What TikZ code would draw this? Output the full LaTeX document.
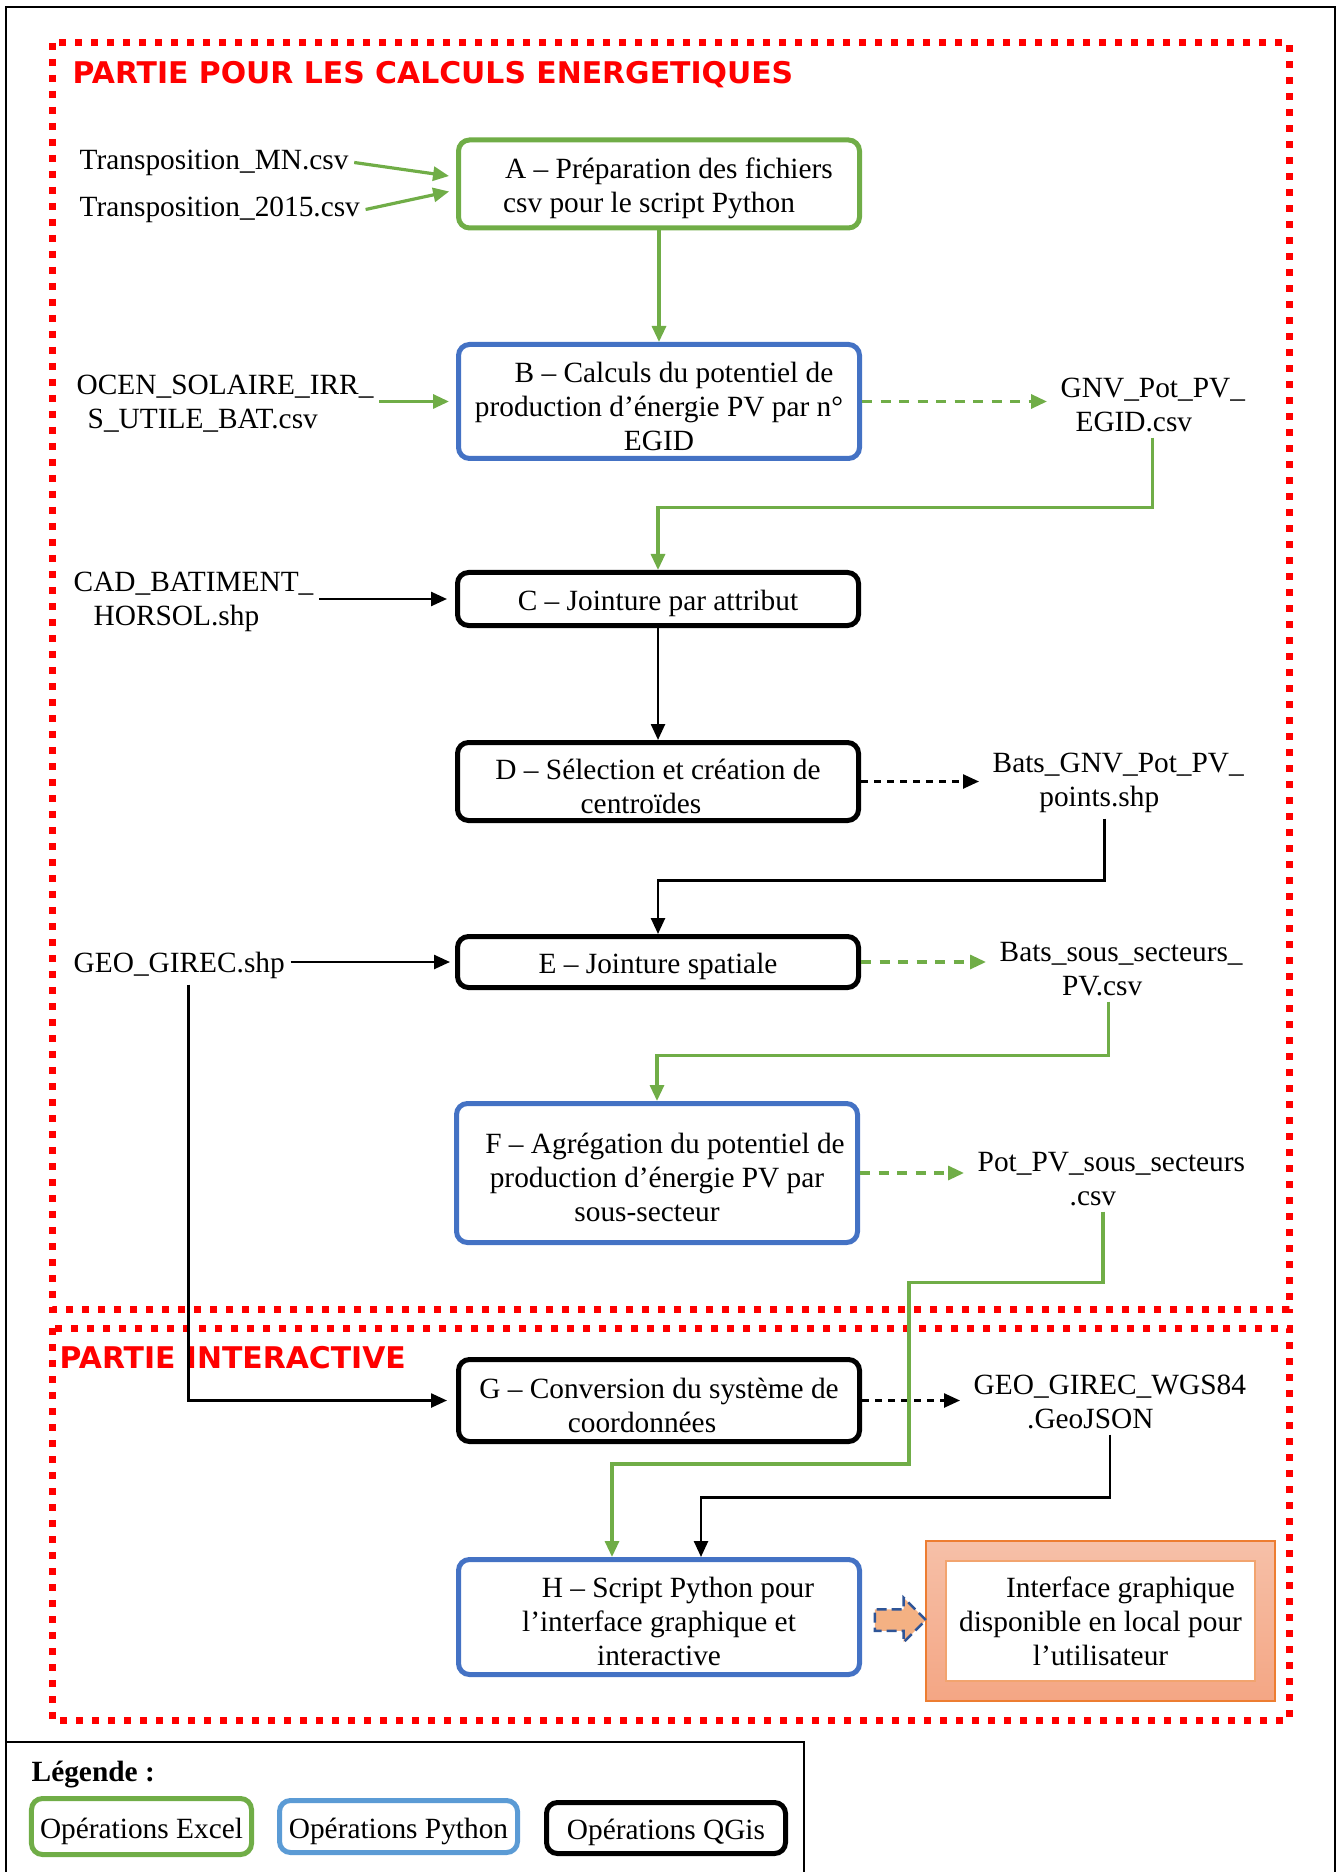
\documentclass[tikz,border=0pt]{standalone}
\usepackage{fontspec}
\setmainfont{Liberation Serif}
\newfontfamily\titlefont{DejaVu Sans}
\usetikzlibrary{arrows.meta,shapes.arrows}

\definecolor{xlgreen}{HTML}{70AD47}
\definecolor{pyblue}{HTML}{4472C4}
\definecolor{pylight}{HTML}{5B9BD5}
\definecolor{partred}{HTML}{FF0000}
\definecolor{uitop}{RGB}{246,192,168}
\definecolor{uibot}{RGB}{244,166,132}
\definecolor{uiedge}{HTML}{ED7D31}
\definecolor{arrfill}{HTML}{F4B183}
\definecolor{arredge}{HTML}{2F5597}

% taller first line, to sit the text a little lower in its box
\newcommand{\boxtop}{\rule{0pt}{3mm}}

\tikzset{
  txt/.style={font=\fontsize{8.35}{9.7}\selectfont},
  opbox/.style={txt, draw, rounded corners=1.1mm, line width=0.5mm, minimum width=40.1mm, align=center,
    inner sep=0.5mm},
  excel/.style={opbox, draw=xlgreen},
  python/.style={opbox, draw=pyblue},
  qgis/.style={opbox, draw=black},
  file/.style={txt, inner sep=0.5mm},
  flow/.style={line width=0.25mm, -{Triangle[length=1.6mm,width=1.4mm]}},
  gflow/.style={flow, xlgreen, line width=0.32mm},
  outflow/.style={flow, dash pattern=on 0.7mm off 0.6mm, shorten >=0.8mm},
  goutflow/.style={gflow, dash pattern=on 1mm off 0.85mm, shorten >=0.8mm},
  partie/.style={draw=partred, line width=0.7mm, dash pattern=on 0.7mm off 0.9mm},
  partlabel/.style={font=\titlefont\bfseries\fontsize{8.5}{10}\selectfont, text=partred, anchor=west, inner sep=0},
}

\begin{document}
\begin{tikzpicture}[x=1mm, y=-1mm]
  \useasboundingbox (0,0) rectangle (133.9,187.2);

  % outer frame
  \draw[line width=0.25mm] (0.6,187.2) -- (0.6,0.7) -- (133.5,0.7) -- (133.5,187.2);

  % the two parts
  \draw[partie] (5.2,4.3) rectangle (128.9,130.9);
  \draw[partie] (5.2,132.8) rectangle (128.9,172.0);
  \node[partlabel] (tcalc) at (7.2,7.5) {PARTIE POUR LES CALCULS ENERGETIQUES};
  \node[partlabel] (tinter) at (5.9,135.8) {PARTIE INTERACTIVE};

  % operations
  \node[excel, minimum height=8.8mm] (A) at (65.9,18.4)
    {\boxtop\hspace*{2mm}A – Préparation des fichiers\\csv pour le script Python\hspace*{2mm}};
  \node[python, minimum height=11.4mm] (B) at (65.9,40.15)
    {\boxtop\hspace*{3mm}B – Calculs du potentiel de\\production d’énergie PV par n°\\EGID};
  \node[qgis, minimum height=5.3mm] (C) at (65.8,59.9) {\boxtop C – Jointure par attribut};
  \node[qgis, minimum height=7.8mm] (D) at (65.8,78.15)
    {\boxtop D – Sélection et création de\\centroïdes\hspace*{3.4mm}};
  \node[qgis, minimum height=5.1mm] (E) at (65.8,96.2) {\boxtop E – Jointure spatiale};
  \node[python, minimum height=13.9mm] (F) at (65.7,117.3)
    {\boxtop\hspace*{1.6mm}F – Agrégation du potentiel de\\production d’énergie PV par\hspace*{2.2mm}\\sous-secteur\hspace*{2mm}};
  \node[qgis, minimum height=8.2mm] (G) at (65.9,140.05)
    {\boxtop G – Conversion du système de\\coordonnées\hspace*{3.4mm}};
  \node[python, minimum height=11.5mm] (H) at (65.9,161.7)
    {\boxtop\hspace*{3.8mm}H – Script Python pour\\l’interface graphique et\\interactive};

  % input files
  \node[file, anchor=west] (tmn) at (7.4,16.25) {Transposition\_MN.csv};
  \node[file, anchor=west] (t15) at (7.4,20.95) {Transposition\_2015.csv};
  \node[file, anchor=west, align=left] (ocen) at (7.1,40.4)
    {OCEN\_SOLAIRE\_IRR\_\\\hspace*{1.1mm}S\_UTILE\_BAT.csv};
  \node[file, anchor=west, align=left] (cad) at (6.8,60.15)
    {CAD\_BATIMENT\_\\\hspace*{2mm}HORSOL.shp};
  \node[file, anchor=west] (geo) at (6.8,96.55) {GEO\_GIREC.shp};

  % output files
  \node[file, anchor=west, align=center] (gnv) at (105.5,40.5)
    {GNV\_Pot\_PV\_\\EGID.csv\hspace*{3.8mm}};
  \node[file, anchor=west, align=center] (bgnv) at (98.7,78.3)
    {Bats\_GNV\_Pot\_PV\_\\points.shp\hspace*{3.8mm}};
  \node[file, anchor=west, align=center] (bsous) at (99.4,96.9)
    {Bats\_sous\_secteurs\_\\PV.csv\hspace*{3.8mm}};
  \node[file, anchor=west, align=center] (pot) at (97.2,117.9)
    {Pot\_PV\_sous\_secteurs\\.csv\hspace*{3.7mm}};
  \node[file, anchor=west, align=center] (geoj) at (96.8,140.2)
    {GEO\_GIREC\_WGS84\\.GeoJSON\hspace*{3.9mm}};

  % user interface
  \node[minimum width=34.9mm, minimum height=16mm, top color=uitop, bottom color=uibot,
        draw=uiedge, line width=0.15mm] (ui) at (110.05,162.1) {};
  \node[txt, fill=white, draw=uiedge!70, line width=0.15mm, minimum width=30.9mm,
        minimum height=12mm, inner sep=0.5mm, align=center] (uitxt) at (ui.center)
    {\hspace*{4mm}Interface graphique\\disponible en local pour\\l’utilisateur};
  \node[single arrow, draw=arredge, fill=arrfill, line width=0.25mm, dash pattern=on 1mm off 0.5mm,
        minimum height=5.1mm, minimum width=4.2mm, single arrow head extend=1.15mm,
        inner sep=0.95mm] (toui) at (89.5,162.0) {};

  % connectors
  \draw[gflow, shorten >=0.7mm] (tmn.east) -- ([yshift=0.7mm]A.west);
  \draw[gflow, shorten >=0.7mm] (t15.east) -- ([yshift=-0.6mm]A.west);
  \draw[gflow] (A) -- (B);
  \draw[gflow, shorten >=0.7mm] (ocen.east |- B.west) -- (B.west);
  \draw[goutflow] (B.east) -- (B.east -| gnv.west);
  \draw[gflow] (gnv.south) -- ++(0,7) -| (C.north);
  \draw[flow, shorten >=0.8mm] (cad.east |- C.west) -- (C.west);
  \draw[flow] (C) -- (D);
  \draw[outflow] (D.east) -- (D.east -| bgnv.west);
  \draw[flow] ([xshift=-1.4mm]bgnv.south) -- ++(0,6.2) -| (E.north);
  \draw[flow, shorten >=0.5mm] (geo.east |- E.west) -- (E.west);
  \draw[goutflow] (E.east) -- (E.east -| bsous.west);
  \draw[gflow] ([xshift=-1.3mm]bsous.south) -- ++(0,5.4) -| (F.north);
  \draw[goutflow] (F.east) -- (F.east -| pot.west);
  \draw[flow, shorten >=0.9mm] ([xshift=0.9mm]geo.south) |- (G.west);
  \draw[outflow] (G.east) -- (G.east -| geoj.west);
  \coordinate (potbend) at (90.9,146.4);
  \draw[gflow] ([xshift=-0.85mm]pot.south) -- ++(0,7.1) -| (potbend) -| ([xshift=-4.7mm]H.north);
  \draw[flow] (geoj.south) -- ++(0,6.3) -| ([xshift=4.2mm]H.north);

  % legend
  \draw[line width=0.2mm] (0.6,174.2) -- (80.4,174.2) -- (80.4,187.2);
  \node[txt, anchor=west, inner sep=0.5mm] (leg) at (2.6,177.5) {\textbf{Légende :}};
  \node[excel, minimum width=22mm, minimum height=5.6mm] (lexcel) at (14.15,182.65) {\boxtop Opérations Excel};
  \node[opbox, draw=pylight, minimum width=23.8mm, minimum height=5.2mm] (lpython) at (39.85,182.65) {\boxtop Opérations Python};
  \node[qgis, minimum width=23.9mm, minimum height=5.1mm] (lqgis) at (66.6,182.8) {\boxtop Opérations QGis};

\end{tikzpicture}
\end{document}
